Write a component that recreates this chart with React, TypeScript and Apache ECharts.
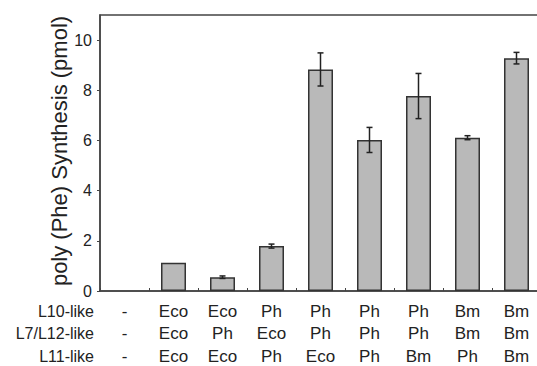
import React, { useEffect, useRef } from "react";
import * as echarts from "echarts";

const L10 = ["-", "Eco", "Eco", "Ph", "Ph", "Ph", "Ph", "Bm", "Bm"];
const L7L12 = ["-", "Eco", "Ph", "Eco", "Ph", "Ph", "Ph", "Bm", "Bm"];
const L11 = ["-", "Eco", "Eco", "Ph", "Eco", "Ph", "Bm", "Ph", "Bm"];
const rowNames = ["L10-like", "L7/L12-like", "L11-like"];
const values = [0, 1.13, 0.55, 1.79, 8.83, 6.02, 7.77, 6.11, 9.28];
const errors = [0, 0, 0.05, 0.08, 0.66, 0.5, 0.9, 0.08, 0.23];
const yTicks = [0, 2, 4, 6, 8, 10];

const FONT = "'Liberation Sans', Arial, Helvetica, sans-serif";

export default function App() {
  const ref = useRef<HTMLDivElement>(null);
  useEffect(() => {
    document.body.style.margin = "0";
    if (!ref.current) return;
    const chart = echarts.init(ref.current, null, { renderer: "svg" });
    const categories = L10.map((v, i) => `${v}\n${L7L12[i]}\n${L11[i]}`);
    const barData = values.map((v) => (v === 0 ? null : v));
    const errData = values.map((v, i) => [i, v - errors[i], v + errors[i]]);
    const gridTop = 15;
    const gridBottomY = 291;
    const lineH = 22.2;
    const labelMargin = 9.5;
    chart.setOption({
      animation: false,
      grid: {
        left: 100,
        top: gridTop,
        height: gridBottomY - gridTop,
        width: 441,
        containLabel: false,
        outerBoundsMode: "none",
        show: true,
        borderColor: "#444",
        borderWidth: 1.5,
        backgroundColor: "transparent",
      },
      xAxis: {
        type: "category",
        data: categories,
        boundaryGap: true,
        axisLine: { show: true, lineStyle: { color: "#444", width: 1.5 } },
        axisTick: { show: true, inside: true, length: 3, lineStyle: { color: "#444", width: 1 } },
        axisLabel: {
          fontSize: 17,
          lineHeight: lineH,
          color: "#222",
          fontFamily: FONT,
          margin: labelMargin,
          interval: 0,
        },
        splitLine: { show: false },
      },
      yAxis: {
        type: "value",
        min: 0,
        max: 11,
        interval: 2,
        axisLine: { show: true, lineStyle: { color: "#444", width: 1.5 } },
        axisTick: { show: true, inside: false, length: 3, lineStyle: { color: "#444", width: 1 } },
        axisLabel: {
          fontSize: 16,
          color: "#222",
          fontFamily: FONT,
          margin: 8,
          showMaxLabel: false,
          formatter: (v: number) => (yTicks.includes(v) ? String(v) : ""),
        },
        splitLine: { show: false },
      },
      series: [
        {
          type: "bar",
          data: barData,
          barWidth: 25,
          itemStyle: { color: "#b9b9b9", borderColor: "#333", borderWidth: 1.5 },
        },
        {
          type: "custom",
          data: errData,
          z: 10,
          renderItem: (params: any, api: any) => {
            const i = api.value(0);
            const lo = api.value(1);
            const hi = api.value(2);
            if (hi - lo <= 0) return null;
            const p1 = api.coord([i, lo]);
            const p2 = api.coord([i, hi]);
            const w = 3;
            const style = { stroke: "#222", lineWidth: 1.5 };
            return {
              type: "group",
              children: [
                { type: "line", shape: { x1: p1[0], y1: p1[1], x2: p2[0], y2: p2[1] }, style },
                { type: "line", shape: { x1: p1[0] - w, y1: p1[1], x2: p1[0] + w, y2: p1[1] }, style },
                { type: "line", shape: { x1: p2[0] - w, y1: p2[1], x2: p2[0] + w, y2: p2[1] }, style },
              ],
            };
          },
        },
      ],
      graphic: [
        ...rowNames.map((name, k) => ({
          type: "text",
          x: 94,
          y: gridBottomY + labelMargin + lineH / 2 + k * lineH,
          style: {
            text: name,
            fontSize: 16,
            fill: "#222",
            fontFamily: FONT,
            align: "right",
            verticalAlign: "middle",
          },
        })),
        {
          type: "text",
          x: 59,
          y: 151,
          rotation: Math.PI / 2,
          style: {
            text: "poly (Phe) Synthesis (pmol)",
            fontSize: 22,
            fill: "#222",
            fontFamily: FONT,
            align: "center",
            verticalAlign: "middle",
          },
        },
      ],
    });
    return () => chart.dispose();
  }, []);
  return <div ref={ref} style={{ width: 537, height: 366 }} />;
}
